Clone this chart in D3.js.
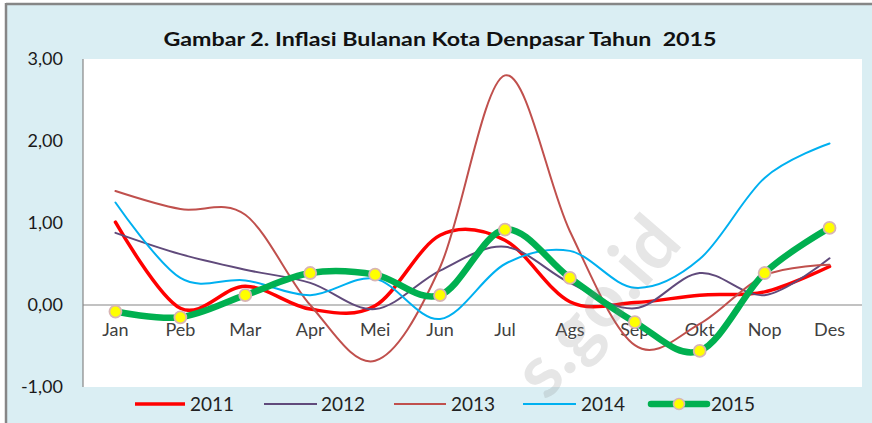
<!DOCTYPE html>
<html><head><meta charset="utf-8">
<script src="https://cdnjs.cloudflare.com/ajax/libs/d3/7.8.5/d3.min.js"></script>
<style>
html,body{margin:0;padding:0;background:#fff;}
svg{display:block;}
</style></head>
<body>
<script>
const months = ["Jan","Peb","Mar","Apr","Mei","Jun","Jul","Ags","Sep","Okt","Nop","Des"];
const s2011 = [1.01,-0.04,0.23,-0.05,-0.01,0.85,0.79,0.04,0.03,0.12,0.16,0.47];
const s2012 = [0.88,0.62,0.43,0.27,-0.05,0.42,0.71,0.27,-0.04,0.39,0.12,0.57];
const s2013 = [1.39,1.17,1.10,0.00,-0.68,0.46,2.80,0.90,-0.49,-0.23,0.36,0.49];
const s2014 = [1.25,0.33,0.30,0.12,0.32,-0.17,0.50,0.66,0.21,0.56,1.55,1.97];
const s2015 = [-0.08,-0.15,0.12,0.39,0.37,0.12,0.92,0.33,-0.21,-0.56,0.39,0.94];
const yTicks = [3,2,1,0,-1];
const yTickLabels = ["3,00","2,00","1,00","0,00","-1,00"];
const seriesNames = ["2011","2012","2013","2014","2015"];

const W = 872, H = 423;
const svg = d3.select("body").append("svg").attr("width", W).attr("height", H);
const font = "Lato, 'DejaVu Sans', sans-serif";

// background & frame
svg.append("rect").attr("x",0).attr("y",0).attr("width",W).attr("height",H).attr("fill","#ffffff");
svg.append("rect").attr("x",5).attr("y",3).attr("width",W-5).attr("height",H-3).attr("fill","#daeef3");
svg.append("line").attr("x1",6).attr("x2",W).attr("y1",4).attr("y2",4).attr("stroke","#868686").attr("stroke-width",2.5);
svg.append("line").attr("x1",6).attr("x2",6).attr("y1",3).attr("y2",H).attr("stroke","#868686").attr("stroke-width",2.5);

const plot = {left:83, right:862, top:59, bottom:387};
svg.append("rect").attr("x",plot.left).attr("y",plot.top).attr("width",plot.right-plot.left).attr("height",plot.bottom-plot.top).attr("fill","#ffffff");

const x = d3.scaleBand().domain(months).range([plot.left, plot.right]);
const y = d3.scaleLinear().domain([-1,3]).range([plot.bottom, plot.top]);
const cx = m => x(m) + x.bandwidth()/2;

// axis line and zero line
svg.append("line").attr("x1",plot.left).attr("x2",plot.left).attr("y1",plot.top).attr("y2",plot.bottom).attr("stroke","#868686").attr("stroke-width",1.2);
svg.append("line").attr("x1",plot.left).attr("x2",plot.right).attr("y1",y(0)).attr("y2",y(0)).attr("stroke","#868686").attr("stroke-width",1.2);

// y tick labels
svg.append("g").selectAll("text").data(yTicks).join("text")
  .attr("x",63).attr("y",d=>y(d)).attr("dy","0.36em").attr("text-anchor","end")
  .attr("font-family",font).attr("font-size",18).attr("fill","#1a1a1a")
  .text((d,i)=>yTickLabels[i]);

// category labels
svg.append("g").selectAll("text").data(months).join("text")
  .attr("x",d=>cx(d)).attr("y",y(0)+25).attr("dy","0.36em").attr("text-anchor","middle")
  .attr("font-family",font).attr("font-size",18).attr("fill","#404040")
  .text(d=>d);

// title
svg.append("text").attr("x",440).attr("y",46).attr("text-anchor","middle")
  .attr("font-family",font).attr("font-weight","bold").attr("font-size",18).attr("fill","#111")
  .attr("textLength",553).attr("lengthAdjust","spacingAndGlyphs")
  .text("Gambar 2. Inflasi Bulanan Kota Denpasar Tahun \u00a02015");

const line = d3.line().x((d,i)=>cx(months[i])).y(d=>y(d)).curve(d3.curveCardinal.tension(0));
const styles = [
  {data:s2011, color:"#ff0000", w:3.5},
  {data:s2012, color:"#604a7b", w:2},
  {data:s2013, color:"#c0504d", w:2},
  {data:s2014, color:"#00b0f0", w:2},
  {data:s2015, color:"#00b050", w:6.5}
];
styles.forEach(s=>{
  svg.append("path").datum(s.data).attr("d",line).attr("fill","none")
    .attr("stroke",s.color).attr("stroke-width",s.w).attr("stroke-linecap","round").attr("stroke-linejoin","round");
});
// markers 2015
svg.append("g").selectAll("circle").data(s2015).join("circle")
  .attr("cx",(d,i)=>cx(months[i])).attr("cy",d=>y(d)).attr("r",6)
  .attr("fill","#ffff00").attr("stroke","#d8b4b4").attr("stroke-width",1.8);

// legend
const legendItems = [
  {x1:135,x2:185,tx:190},
  {x1:264,x2:317,tx:321},
  {x1:394,x2:446,tx:451},
  {x1:523,x2:576,tx:581},
  {x1:651,x2:707,tx:711}
];
const ly = 404;
legendItems.forEach((it,i)=>{
  const s = styles[i];
  svg.append("line").attr("x1",it.x1).attr("x2",it.x2).attr("y1",ly).attr("y2",ly)
    .attr("stroke",s.color).attr("stroke-width",s.w).attr("stroke-linecap", i===4?"round":"butt");
  if(i===4){
    svg.append("circle").attr("cx",(it.x1+it.x2)/2).attr("cy",ly).attr("r",5.5)
      .attr("fill","#ffff00").attr("stroke","#d8b4b4").attr("stroke-width",1.5);
  }
  svg.append("text").attr("x",it.tx).attr("y",ly).attr("dy","0.36em")
    .attr("font-family",font).attr("font-size",19).attr("fill","#222")
    .text(seriesNames[i]);
});

// watermark
svg.append("text").attr("transform","translate(684,244) rotate(-49)")
  .attr("text-anchor","end").attr("font-family",font).attr("font-weight","bold")
  .attr("font-size",74).attr("fill","#808080").attr("fill-opacity",0.2)
  .text("s.go.id");
</script>
</body></html>
